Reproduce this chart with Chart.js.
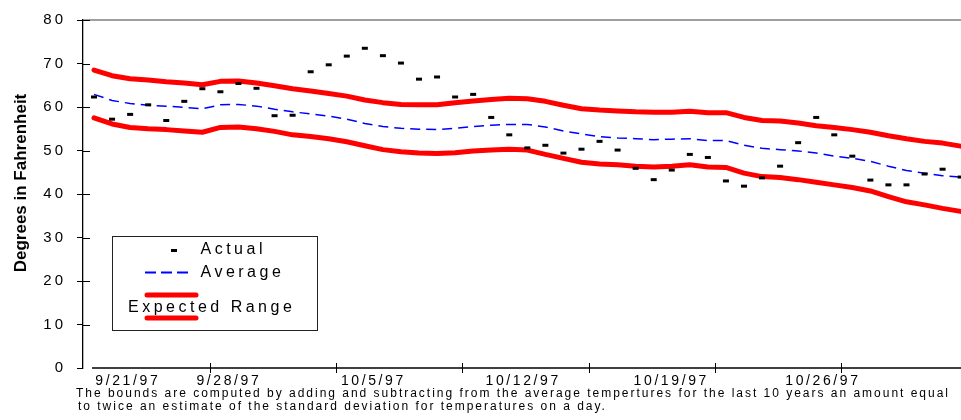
<!DOCTYPE html>
<html>
<head>
<meta charset="utf-8">
<script src="https://cdn.jsdelivr.net/npm/chart.js@4/dist/chart.umd.min.js"></script>
<style>
  body { margin: 0; background: #fff; }
  canvas { display: block; }
</style>
</head>
<body>
<canvas id="tempChart" width="961" height="420"></canvas>
<script>
// Daily values, one per day starting a couple of days before 9/21/97
const actualTemps = [62.3, 57.2, 58.3, 60.5, 56.9, 61.3, 64.2, 63.5, 65.4, 64.3,
                     58.0, 58.1, 68.1, 69.7, 71.7, 73.5, 71.8, 70.1, 66.4, 66.9,
                     62.3, 62.9, 57.6, 53.6, 50.6, 51.2, 49.4, 50.3, 52.1, 50.1,
                     45.9, 43.3, 45.5, 49.1, 48.4, 43.0, 41.8, 43.7, 46.4, 51.8,
                     57.6, 53.6, 48.7, 43.2, 42.1, 42.1, 44.6, 45.7, 43.9];
const averageTemps = [62.9, 61.5, 60.8, 60.4, 60.2, 59.9, 59.6, 60.5, 60.6, 60.2,
                      59.5, 58.9, 58.4, 57.9, 57.2, 56.2, 55.5, 55.1, 54.9, 54.8,
                      55.1, 55.5, 55.8, 56.0, 56.0, 55.4, 54.5, 53.8, 53.2, 52.9,
                      52.7, 52.5, 52.6, 52.7, 52.3, 52.3, 51.2, 50.5, 50.2, 49.9,
                      49.4, 48.7, 48.2, 47.5, 46.4, 45.4, 44.8, 44.2, 43.9];
const upperBound = [68.5, 67.2, 66.5, 66.2, 65.8, 65.5, 65.1, 65.9, 66.0, 65.5,
                    64.9, 64.2, 63.7, 63.1, 62.5, 61.6, 61.0, 60.6, 60.5, 60.5,
                    61.0, 61.4, 61.7, 62.0, 61.9, 61.3, 60.4, 59.6, 59.3, 59.1,
                    58.9, 58.8, 58.8, 59.0, 58.7, 58.7, 57.6, 56.9, 56.8, 56.3,
                    55.7, 55.3, 54.8, 54.2, 53.4, 52.7, 52.1, 51.7, 51.0];
const lowerBound = [57.5, 56.1, 55.3, 55.0, 54.8, 54.5, 54.2, 55.3, 55.4, 55.0,
                    54.4, 53.6, 53.2, 52.7, 52.0, 51.1, 50.2, 49.7, 49.4, 49.3,
                    49.5, 49.9, 50.1, 50.3, 50.1, 49.1, 48.2, 47.3, 46.9, 46.7,
                    46.4, 46.2, 46.4, 46.7, 46.2, 46.1, 44.8, 44.0, 43.8, 43.3,
                    42.7, 42.1, 41.5, 40.7, 39.4, 38.2, 37.5, 36.7, 36.0];

const tickLabels = ['9/21/97', '9/28/97', '10/5/97', '10/12/97', '10/19/97', '10/26/97'];
const footnote = [
    'The bounds are computed by adding and subtracting from the average tempertures for the last 10 years an amount equal',
    'to twice an estimate of the standard deviation for temperatures on a day.'
];

const toPoints = arr => arr.map((v, i) => ({ x: i, y: v }));

// draw text with letter spacing, x is the left edge of the first glyph
function spaced(ctx, text, x, y, spacing) {
    ctx.letterSpacing = spacing + 'px';
    ctx.textAlign = 'left';
    ctx.fillText(text, x, y);
}
function spacedCenter(ctx, text, cx, y, spacing) {
    ctx.letterSpacing = spacing + 'px';
    const w = ctx.measureText(text).width - spacing;
    ctx.textAlign = 'left';
    ctx.fillText(text, cx - w / 2, y);
}

const extras = {
    id: 'extras',
    beforeDraw(chart) {
        // y tick labels are letter spaced in the original
        chart.ctx.letterSpacing = '3px';
    },
    beforeDatasetsDraw(chart) {
        chart.ctx.letterSpacing = '0px';
    },
    afterDraw(chart) {
        const ctx = chart.ctx;
        const xs = chart.scales.x;
        const ys = chart.scales.y;
        const area = chart.chartArea;
        ctx.save();

        // gray top border
        ctx.strokeStyle = '#808080';
        ctx.lineWidth = 1.3;
        ctx.beginPath();
        ctx.moveTo(area.left, area.top);
        ctx.lineTo(area.right, area.top);
        ctx.stroke();

        // inner half of y tick marks
        ctx.strokeStyle = '#000';
        ctx.lineWidth = 1;
        ys.ticks.forEach(t => {
            if (t.value === 0) return;
            const py = Math.round(ys.getPixelForValue(t.value)) + 0.5;
            ctx.beginPath();
            ctx.moveTo(area.left, py);
            ctx.lineTo(area.left + 7, py);
            ctx.stroke();
        });

        // x axis line and tick marks between weeks
        const axisY = area.bottom;
        ctx.lineWidth = 1.5;
        ctx.beginPath();
        ctx.moveTo(xs.getPixelForValue(0) - 2, axisY);
        ctx.lineTo(area.right, axisY);
        ctx.stroke();
        ctx.lineWidth = 1;
        tickLabels.forEach((lab, k) => {
            const px = Math.round(xs.getPixelForValue(6.4 + 7 * k)) + 0.5;
            ctx.beginPath();
            ctx.moveTo(px, axisY - 5);
            ctx.lineTo(px, axisY + 5);
            ctx.stroke();
        });

        // x tick labels
        const labelAt = [1.8, 7.4, 15.4, 23.7, 31.9, 40.3];
        ctx.fillStyle = '#000';
        ctx.font = '14px "Liberation Sans", Arial, sans-serif';
        ctx.textBaseline = 'middle';
        tickLabels.forEach((lab, k) => {
            spacedCenter(ctx, lab, xs.getPixelForValue(labelAt[k]), 381, 2.6);
        });

        // footnote, stretched like the original
        ctx.font = '12px "Liberation Sans", Arial, sans-serif';
        ctx.letterSpacing = '0px';
        const w0 = ctx.measureText(footnote[0]).width;
        const s = (872 - w0) / (footnote[0].length - 1);
        spaced(ctx, footnote[0], 76, 394, s);
        spaced(ctx, footnote[1], 78, 407, s);

        // y axis title
        ctx.letterSpacing = '0px';
        ctx.font = 'bold 17px "Liberation Sans", Arial, sans-serif';
        ctx.textAlign = 'center';
        ctx.save();
        ctx.translate(21, 183);
        ctx.rotate(-Math.PI / 2);
        ctx.fillText('Degrees in Fahrenheit', 0, 0);
        ctx.restore();

        // legend box
        ctx.fillStyle = '#fff';
        ctx.fillRect(112.5, 236.5, 205, 94);
        ctx.strokeStyle = '#222';
        ctx.lineWidth = 1;
        ctx.strokeRect(112.5, 236.5, 205, 94);

        ctx.fillStyle = '#000';
        ctx.font = '16px "Liberation Sans", Arial, sans-serif';
        ctx.textBaseline = 'middle';

        ctx.strokeStyle = '#000';
        ctx.lineWidth = 3;
        ctx.beginPath();
        ctx.moveTo(171, 250.5);
        ctx.lineTo(177, 250.5);
        ctx.stroke();
        spaced(ctx, 'Actual', 200.5, 250, 3.5);

        ctx.strokeStyle = '#0000ff';
        ctx.lineWidth = 2;
        ctx.setLineDash([11, 5]);
        ctx.beginPath();
        ctx.moveTo(145, 272.5);
        ctx.lineTo(191, 272.5);
        ctx.stroke();
        ctx.setLineDash([]);
        spaced(ctx, 'Average', 200.5, 273, 3.5);

        ctx.strokeStyle = '#ff0000';
        ctx.lineWidth = 5;
        ctx.lineCap = 'round';
        [295, 318].forEach(ly => {
            ctx.beginPath();
            ctx.moveTo(147, ly);
            ctx.lineTo(196, ly);
            ctx.stroke();
        });
        spaced(ctx, 'Expected Range', 128, 308, 3.5);

        ctx.restore();
        ctx.letterSpacing = '0px';
    }
};

const ctx = document.getElementById('tempChart').getContext('2d');
const tempChart = new Chart(ctx, {
    type: 'line',
    data: {
        datasets: [
            {
                label: 'Actual',
                data: toPoints(actualTemps),
                showLine: false,
                pointStyle: 'line',
                pointRadius: 3,
                pointBorderWidth: 3,
                borderColor: '#000',
                backgroundColor: '#000'
            },
            {
                label: 'Average',
                data: toPoints(averageTemps),
                borderColor: '#0000ff',
                borderWidth: 1.5,
                borderDash: [10, 6],
                pointRadius: 0,
                tension: 0
            },
            {
                label: 'Upper bound',
                data: toPoints(upperBound),
                borderColor: '#ff0000',
                borderWidth: 5,
                borderCapStyle: 'round',
                borderJoinStyle: 'round',
                pointRadius: 0,
                tension: 0
            },
            {
                label: 'Lower bound',
                data: toPoints(lowerBound),
                borderColor: '#ff0000',
                borderWidth: 5,
                borderCapStyle: 'round',
                borderJoinStyle: 'round',
                pointRadius: 0,
                tension: 0
            }
        ]
    },
    options: {
        responsive: false,
        animation: false,
        devicePixelRatio: 1,
        layout: { autoPadding: false, padding: { left: 0, right: 0, top: 13, bottom: 52 } },
        plugins: {
            legend: { display: false },
            tooltip: { enabled: false }
        },
        scales: {
            x: {
                type: 'linear',
                min: -0.61,
                max: 48.02,
                display: false
            },
            y: {
                min: 0,
                max: 80,
                afterFit: scale => { scale.width = 83; },
                ticks: {
                    stepSize: 10,
                    color: '#000',
                    padding: 11,
                    font: { family: '"Liberation Sans", Arial, sans-serif', size: 15 }
                },
                grid: {
                    drawOnChartArea: false,
                    drawTicks: true,
                    tickLength: 6,
                    color: '#000'
                },
                border: { display: true, color: '#000', width: 1.3 }
            }
        }
    },
    plugins: [extras]
});
</script>
</body>
</html>
